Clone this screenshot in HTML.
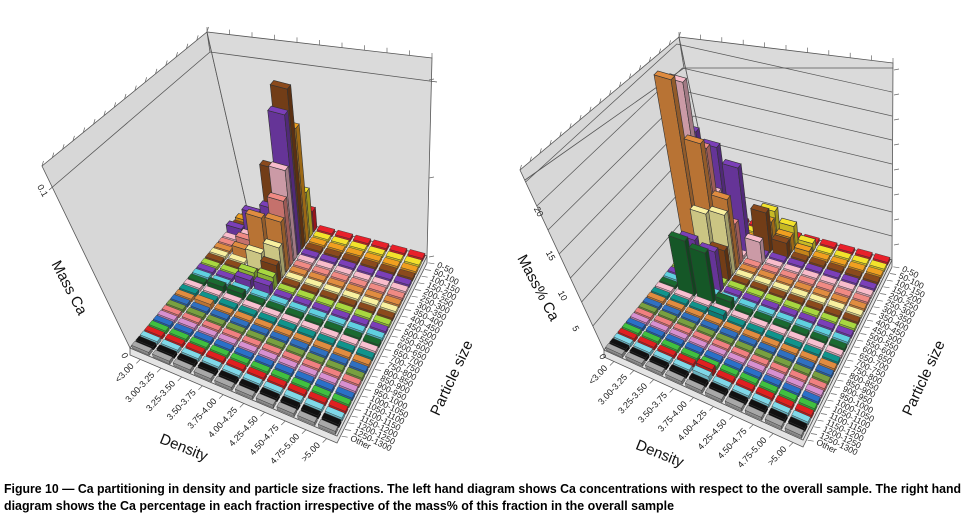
<!DOCTYPE html>
<html><head><meta charset="utf-8">
<style>
html,body{margin:0;padding:0;background:#fff;}
svg{display:block;}
text{font-family:"Liberation Sans",sans-serif;}
</style></head>
<body>
<svg id="s" width="967" height="529" viewBox="0 0 967 529" xmlns="http://www.w3.org/2000/svg">
<text x="4" y="493" font-size="12.5" font-weight="bold" textLength="957" lengthAdjust="spacingAndGlyphs">Figure 10 — Ca partitioning in density and particle size fractions. The left hand diagram shows Ca concentrations with respect to the overall sample. The right hand</text>
<text x="4" y="510" font-size="12.5" font-weight="bold" textLength="670" lengthAdjust="spacingAndGlyphs">diagram shows the Ca percentage in each fraction irrespective of the mass% of this fraction in the overall sample</text>
</svg>
<script>
var NS="http://www.w3.org/2000/svg",S=document.getElementById("s");
function el(t,a,p){var e=document.createElementNS(NS,t);for(var k in a)e.setAttribute(k,a[k]);(p||S).appendChild(e);return e;}
var COLS=["#e8202a","#f3e22c","#f0a020","#8b4a1c","#7b3fb8","#f8bccb","#f08a84","#e08c40","#f8f0a0","#8b4a1c","#a8d840","#7b3fb8","#60d0e0","#1a6a30","#f8c0d0","#10948c","#e08c40","#3070c0","#78a040","#f08080","#d890d0","#2a70c8","#40c040","#e02020","#80d8e8","#111111","#a8a8a8"];
function shade(c,f){var n=parseInt(c.slice(1),16),r=(n>>16)&255,g=(n>>8)&255,b=n&255;return "rgb("+Math.round(r*f)+","+Math.round(g*f)+","+Math.round(b*f)+")";}
var DENS=["<3.00","3.00-3.25","3.25-3.50","3.50-3.75","3.75-4.00","4.00-4.25","4.25-4.50","4.50-4.75","4.75-5.00",">5.00"];
var PS=["0-50","50-100","100-150","150-200","200-250","250-300","300-350","350-400","400-450","450-500","500-550","550-600","600-650","650-700","700-750","750-800","800-850","850-900","900-950","950-1000","1000-1050","1050-1100","1100-1150","1150-1200","1200-1250","1250-1300","Other"];
function chart(c){
 var A=c.A,B=c.B,C=c.C,D=c.D,V=c.V;
 function P(u,v){return [(1-u)*(1-v)*D[0]+u*(1-v)*C[0]+(1-u)*v*A[0]+u*v*B[0],(1-u)*(1-v)*D[1]+u*(1-v)*C[1]+(1-u)*v*A[1]+u*v*B[1]];}
 function H(p,h,lf){var k=h/(V[1]-p[1])*(lf||1);return [p[0]+(p[0]-V[0])*k,p[1]-h];}
 function pts(a){return a.map(function(q){return q[0].toFixed(1)+","+q[1].toFixed(1)}).join(" ");}
 el("polygon",{points:pts([A,D,c.Dt,c.At]),fill:"#d7d7d7",stroke:"#555","stroke-width":"0.8"});
 el("polygon",{points:pts([D,C,c.Ct,c.Dt]),fill:"#dadada",stroke:"#555","stroke-width":"0.8"});
 el("polyline",{points:pts([c.Ai,c.Di,c.Ci]),fill:"none",stroke:"#555","stroke-width":"0.8"});
 el("line",{x1:c.Dt[0],y1:c.Dt[1],x2:c.Di[0],y2:c.Di[1],stroke:"#555","stroke-width":"0.8"});
 (c.grid||[]).forEach(function(h){
  var a=H(A,h),d=H(D,h),cc=H(C,h);
  el("polyline",{points:pts([a,d,cc]),fill:"none",stroke:"#555","stroke-width":"0.7"});
 });
 for(var t=0;t<=16;t++){var f=t/16,x=c.At[0]+(c.Dt[0]-c.At[0])*f,y=c.At[1]+(c.Dt[1]-c.At[1])*f;el("line",{x1:x,y1:y,x2:x+1.5,y2:y-5,stroke:"#666","stroke-width":"0.7"});}
 for(var t=0;t<=10;t++){var f=t/10,x=c.Dt[0]+(c.Ct[0]-c.Dt[0])*f,y=c.Dt[1]+(c.Ct[1]-c.Dt[1])*f;el("line",{x1:x,y1:y,x2:x,y2:y-5,stroke:"#666","stroke-width":"0.7"});}
 (c.rt||[]).forEach(function(y){el("line",{x1:c.C[0]+2,y1:y,x2:c.C[0]+7,y2:y-1,stroke:"#666","stroke-width":"0.7"});});
 var th=7,A2=[A[0],A[1]+th],B2=[B[0],B[1]+th],C2=[C[0],C[1]+th];
 el("polygon",{points:pts([A,B,C,C2,B2,A2]),fill:"#e4e4e4",stroke:"#555","stroke-width":"0.8"});
 el("polygon",{points:pts([A,B,C,D]),fill:"#e2e2e2",stroke:"#555","stroke-width":"0.8"});
 var hm={};c.bars.forEach(function(b){hm[b[0]+"_"+b[1]]=b[2];});
 var cells=[];for(var i=0;i<10;i++)for(var j=0;j<27;j++)cells.push([i,j]);
 cells.sort(function(a,b){return (a[0]+a[1])-(b[0]+b[1])||a[0]-b[0];});
 cells.forEach(function(q){
  var i=q[0],j=q[1],h=hm[i+"_"+j]||3,col=COLS[j];
  var u0=(i+0.09)/10,u1=(i+0.91)/10,v0=(j+0.12)/27,v1=(j+0.88)/27;
  var p00=P(u0,v0),p10=P(u1,v0),p01=P(u0,v1),p11=P(u1,v1);
  var lf=0.6;
  var t00=H(p00,h,lf),t10=H(p10,h,lf),t01=H(p01,h,lf),t11=H(p11,h,lf);
  var sw=h>5?"0.6":"0.4";
  el("polygon",{points:pts([p01,p11,t11,t01]),fill:shade(col,0.82),stroke:"#333","stroke-width":sw});
  el("polygon",{points:pts([p11,p10,t10,t11]),fill:shade(col,0.65),stroke:"#333","stroke-width":sw});
  el("polygon",{points:pts([t00,t10,t11,t01]),fill:col,stroke:"#333","stroke-width":sw});
 });
 for(var i=0;i<10;i++){
  var p=P((i+0.5)/10,1);p=[p[0],p[1]+th];
  el("line",{x1:p[0],y1:p[1],x2:p[0]-4,y2:p[1]+4,stroke:"#666","stroke-width":"0.7"});
  var tx=p[0]-6,ty=p[1]+7;
  var e=el("text",{x:tx,y:ty,"font-size":"9","text-anchor":"end",transform:"rotate(-47 "+tx+" "+ty+")",fill:"#222"});e.textContent=DENS[i];
 }
 for(var j=0;j<27;j++){
  var p=P(1,(j+0.5)/27);p=[p[0]+3,p[1]+th/2];
  el("line",{x1:p[0],y1:p[1],x2:p[0]+6,y2:p[1]+1,stroke:"#666","stroke-width":"0.7"});
  var tx=p[0]+8,ty=p[1]+4;
  var e=el("text",{x:tx,y:ty,"font-size":"8.6","text-anchor":"start",transform:"rotate(26 "+tx+" "+ty+")",fill:"#222"});e.textContent=PS[j];
 }
 c.zl.forEach(function(z){var e=el("text",{x:z[0],y:z[1],"font-size":"9","text-anchor":"middle",transform:"rotate(62 "+z[0]+" "+z[1]+")",fill:"#222"});e.textContent=z[2];});
 c.titles.forEach(function(t){var e=el("text",{x:t[0],y:t[1],"font-size":"15","text-anchor":"middle",transform:"rotate("+t[3]+" "+t[0]+" "+t[1]+")",fill:"#111"});e.textContent=t[2];});
}
chart({A:[130,348],B:[337,436],C:[427,256],D:[247,208],V:[410,947],
 At:[42,166],Dt:[207,32],Ct:[432,58],Ai:[49,190],Di:[210,52],Ci:[437,82],
 rt:[80,178,257],
 bars:[[3,0,20],[3,1,45],[3,2,115],[3,3,160],[3,4,140],[3,5,90],[3,6,65],[3,7,50],[3,8,30],[3,9,18],[3,10,12],[3,11,9],
  [2,3,75],[2,4,40],[2,5,22],[2,6,28],[2,7,48],[2,8,18],[2,10,10],[2,11,8],[2,13,6],
  [1,4,30],[1,3,15],[1,5,12],[1,6,14],[1,7,10],[1,13,6],[1,16,5],[0,4,9],[0,2,6],[0,3,5]],
 zl:[[122,357,"0"],[40,192,"0.1"]],
 titles:[[65,290,"Mass Ca",62],[182,452,"Density",22],[456,380,"Particle size",-65]]
});
chart({A:[604,350],B:[803,440],C:[892,260],D:[716,212],V:[892,967],
 At:[520,170],Dt:[679,37],Ct:[893,63],Ai:[525,180],Di:[684,68],Ci:[893,68],
 grid:[24,48,72,96,120,144,168],
 rt:[70,95,120,145,170,195,220,245],
 bars:[[0,4,110],[0,5,165],[0,7,178],[0,6,60],[1,4,100],[1,5,60],[1,6,110],[1,7,120],[1,8,55],[2,4,85],[2,6,40],[2,7,70],[2,8,60],
  [1,11,45],[1,13,55],[2,11,40],[2,13,50],[2,9,30],[3,1,30],[3,2,25],[3,3,40],[3,5,22],[4,1,20],[4,2,15],[4,3,15],[5,1,8],[5,2,6],
  [3,13,8],[3,15,6],[4,23,6],[4,24,5]],
 zl:[[600,358,"0"],[573,330,"5"],[560,297,"10"],[548,257,"15"],[536,213,"20"]],
 titles:[[534,290,"Mass% Ca",62],[658,458,"Density",22],[928,380,"Particle size",-65]]
});
</script>
</body></html>
